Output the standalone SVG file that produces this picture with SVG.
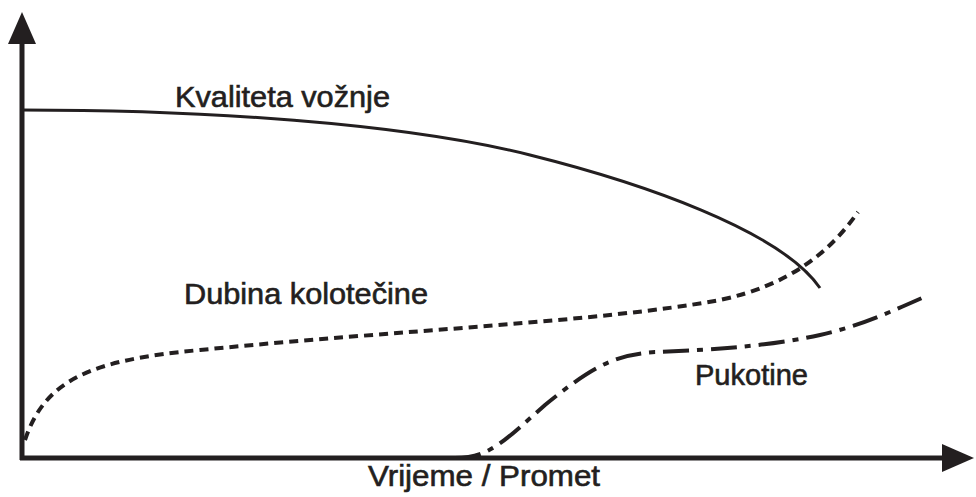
<svg xmlns="http://www.w3.org/2000/svg" width="976" height="497" viewBox="0 0 976 497">
<style>
.lbl{font-family:"Liberation Sans",Arial,sans-serif;font-size:29px;fill:#231f20;stroke:#231f20;stroke-width:0.6}
.axis{stroke:#231f20;stroke-width:5;fill:none}
.curve{fill:none;stroke:#231f20;stroke-linecap:butt}
</style>
<defs>
<marker id="ah" markerUnits="userSpaceOnUse" viewBox="0 0 32 28" refX="4" refY="14" markerWidth="32" markerHeight="28" orient="auto">
<path d="M0,0 L32,14 L0,28 Z" fill="#231f20"/>
</marker>
</defs>
<rect width="976" height="497" fill="#fff"/>
<g id="axes">
<line class="axis" x1="22" y1="460" x2="22" y2="40" marker-end="url(#ah)"/>
<line class="axis" x1="20" y1="458" x2="946" y2="458" marker-end="url(#ah)"/>
</g>
<g id="connectors">
<path id="kvaliteta" class="curve" stroke-width="3" d="M22,110 C200,110 400,122.5 530,155 C640,182.5 780,230 820,288"/>
<path id="dubina" class="curve" stroke-width="4" stroke-dasharray="9,6" d="M25,440 C45,380 90,360 200,350 C400,330 600,322 720,300 C790,285 830,252 858,212"/>
<path id="pukotine" class="curve" stroke-width="4" stroke-dasharray="26,8,6,8" d="M455,458 C490,458 505,440 545,405 C600,360 620,355 655,352 C700,350 760,348 820,335 C860,326 890,312 922,298"/>
</g>
<g id="labels">
<text class="lbl" x="175" y="107" textLength="215" lengthAdjust="spacingAndGlyphs">Kvaliteta vožnje</text>
<text class="lbl" x="184" y="304" textLength="244" lengthAdjust="spacingAndGlyphs">Dubina kolotečine</text>
<text class="lbl" x="695" y="385" textLength="113" lengthAdjust="spacingAndGlyphs">Pukotine</text>
<text class="lbl" x="368" y="486" textLength="232" lengthAdjust="spacingAndGlyphs">Vrijeme / Promet</text>
</g>
</svg>
